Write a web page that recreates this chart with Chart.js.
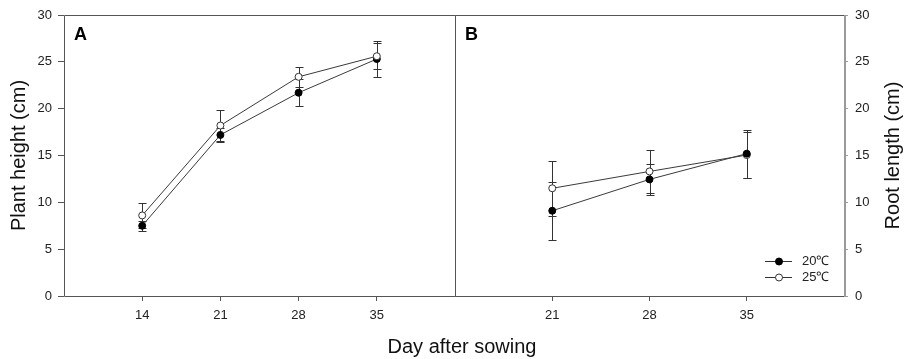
<!DOCTYPE html>
<html>
<head>
<meta charset="utf-8">
<script src="https://cdn.jsdelivr.net/npm/chart.js@4.4.0/dist/chart.umd.min.js"></script>
<style>
  body { margin: 0; background: #fff; }
  #wrap { position: relative; width: 905px; height: 359px; overflow: hidden; font-family: "Liberation Sans", Arial, sans-serif; }
  canvas { position: absolute; top: 0; }
  #chartA { left: 0; }
  #chartB { left: 450px; }
  #xtitle { position: absolute; left: 462px; top: 336px; transform: translateX(-50%); font-size: 20px; line-height: 20px; color: #111; white-space: nowrap; }
</style>
</head>
<body>
<div id="wrap">
  <canvas id="chartA" width="460" height="359"></canvas>
  <canvas id="chartB" width="455" height="359"></canvas>
  <div id="xtitle">Day after sowing</div>
</div>
<script>
// panel A - plant height
const daysA = [14, 21, 28, 35];
const heightAt20 = [7.5, 17.2, 21.7, 25.3];
const heightErr20 = [0.55, 0.75, 1.45, 1.9];
const heightAt25 = [8.6, 18.2, 23.4, 25.6];
const heightErr25 = [1.3, 1.7, 1.1, 1.4];

// panel B - root length
const daysB = [21, 28, 35];
const rootAt20 = [9.1, 12.45, 15.2];
const rootErr20 = [3.1, 1.65, 2.55];
const rootAt25 = [11.5, 13.3, 15.05];
const rootErr25 = [2.95, 2.3, 2.5];

const yTicks = [0, 5, 10, 15, 20, 25, 30];
const seriesNames = ['20℃', '25℃'];

const FONT = '"Liberation Sans", Arial, sans-serif';

function pts(xs, ys) {
  return xs.map((x, i) => ({ x: x, y: ys[i] }));
}

function series(name, xs, ys, errs, filled) {
  return {
    label: name,
    data: pts(xs, ys),
    errors: errs,
    borderColor: '#3a3a3a',
    borderWidth: 1,
    tension: 0,
    pointRadius: 3.5,
    pointBorderWidth: 1,
    pointBackgroundColor: filled ? '#000' : '#fff',
    pointBorderColor: filled ? '#000' : '#333'
  };
}

// error bars, drawn under the lines and markers
const errorBars = {
  id: 'errorBars',
  beforeDatasetsDraw(chart) {
    const ctx = chart.ctx;
    const ys = chart.scales.y;
    ctx.save();
    ctx.strokeStyle = '#333';
    ctx.lineWidth = 1;
    chart.data.datasets.forEach((ds, di) => {
      const meta = chart.getDatasetMeta(di);
      ds.data.forEach((p, i) => {
        const x = Math.round(meta.data[i].x) + 0.5;
        const top = Math.round(ys.getPixelForValue(p.y + ds.errors[i])) + 0.5;
        const bot = Math.round(ys.getPixelForValue(p.y - ds.errors[i])) + 0.5;
        ctx.beginPath();
        ctx.moveTo(x, top); ctx.lineTo(x, bot);
        ctx.moveTo(x - 4, top); ctx.lineTo(x + 4, top);
        ctx.moveTo(x - 4, bot); ctx.lineTo(x + 4, bot);
        ctx.stroke();
      });
    });
    ctx.restore();
  }
};

// box around the plot, panel letter, legend and right-hand title
const decor = {
  id: 'decor',
  afterDraw(chart, args, opts) {
    const ctx = chart.ctx;
    const a = chart.chartArea;
    const l = Math.round(a.left) + 0.5, r = Math.round(a.right) + 0.5;
    const t = Math.round(a.top) + 0.5, b = Math.round(a.bottom) + 0.5;
    ctx.save();
    ctx.strokeStyle = '#555';
    ctx.lineWidth = 1;
    ctx.beginPath();
    ctx.moveTo(l, b); ctx.lineTo(l, t); ctx.lineTo(r, t);
    if (!opts.rightAxis) ctx.lineTo(r, b);
    ctx.moveTo(l, b); ctx.lineTo(r, b);
    ctx.stroke();
    if (opts.rightAxis) {
      ctx.strokeStyle = '#9a9a9a';
      ctx.lineWidth = 2;
      ctx.beginPath();
      ctx.moveTo(Math.round(a.right) + 1, t - 0.5);
      ctx.lineTo(Math.round(a.right) + 1, b + 0.5);
      ctx.stroke();
    }

    ctx.fillStyle = '#000';
    ctx.font = 'bold 18px ' + FONT;
    ctx.textAlign = 'left';
    ctx.textBaseline = 'alphabetic';
    ctx.fillText(opts.letter, a.left + 10, a.top + 24.5);

    if (opts.legend) {
      ctx.font = '13px ' + FONT;
      ctx.textBaseline = 'middle';
      chart.data.datasets.forEach((ds, i) => {
        const y = a.bottom - 35 + i * 16 + 0.5;
        ctx.strokeStyle = '#333';
        ctx.lineWidth = 1;
        ctx.beginPath();
        ctx.moveTo(a.right - 79, y); ctx.lineTo(a.right - 52, y);
        ctx.stroke();
        ctx.beginPath();
        ctx.arc(a.right - 65, y, 3.5, 0, Math.PI * 2);
        ctx.fillStyle = ds.pointBackgroundColor;
        ctx.fill();
        ctx.strokeStyle = ds.pointBorderColor;
        ctx.stroke();
        ctx.fillStyle = '#222';
        ctx.fillText(ds.label, a.right - 42, y);
      });
    }

    if (opts.rightTitle) {
      ctx.translate(chart.width - 12, (a.top + a.bottom) / 2);
      ctx.rotate(-Math.PI / 2);
      ctx.font = '20px ' + FONT;
      ctx.fillStyle = '#111';
      ctx.textAlign = 'center';
      ctx.textBaseline = 'middle';
      ctx.fillText(opts.rightTitle, 0, 0);
    }
    ctx.restore();
  }
};

function xAxis(min, max, ticks) {
  return {
    type: 'linear',
    min: min,
    max: max,
    afterBuildTicks: s => { s.ticks = ticks.map(v => ({ value: v })); },
    afterFit: s => { s.height = 63; },
    border: { display: false },
    grid: { drawOnChartArea: false, drawTicks: true, tickLength: 5, color: '#555' },
    ticks: { color: '#222', padding: 7, font: { family: FONT, size: 13 } }
  };
}

function yAxis(side, width, title) {
  return {
    type: 'linear',
    position: side,
    min: 0,
    max: 30,
    afterBuildTicks: s => { s.ticks = yTicks.map(v => ({ value: v })); },
    afterFit: s => { s.width = width; },
    border: { display: false },
    grid: { drawOnChartArea: false, drawTicks: true, tickLength: side === 'left' ? 6 : 4, color: side === 'left' ? '#555' : '#9a9a9a' },
    ticks: { color: '#222', padding: side === 'left' ? 6 : 7, font: { family: FONT, size: 13 } },
    title: title ? { display: true, text: title, color: '#111', padding: { top: 7, bottom: 0 }, font: { family: FONT, size: 20 } } : { display: false }
  };
}

new Chart(document.getElementById('chartA'), {
  type: 'line',
  data: {
    datasets: [
      series(seriesNames[1], daysA, heightAt25, heightErr25, false),
      series(seriesNames[0], daysA, heightAt20, heightErr20, true)
    ]
  },
  options: {
    responsive: false,
    animation: false,
    layout: { padding: { top: 15, right: 5, left: 0, bottom: 0 } },
    scales: {
      x: xAxis(7, 42, daysA),
      y: yAxis('left', 64, 'Plant height (cm)')
    },
    plugins: {
      legend: { display: false },
      tooltip: { enabled: false },
      decor: { letter: 'A' }
    }
  },
  plugins: [errorBars, decor]
});

new Chart(document.getElementById('chartB'), {
  type: 'line',
  data: {
    datasets: [
      series(seriesNames[0], daysB, rootAt20, rootErr20, true),
      series(seriesNames[1], daysB, rootAt25, rootErr25, false)
    ]
  },
  options: {
    responsive: false,
    animation: false,
    layout: { padding: { top: 15, right: 0, left: 5, bottom: 0 } },
    scales: {
      x: xAxis(14, 42, daysB),
      y: yAxis('right', 61, null)
    },
    plugins: {
      legend: { display: false },
      tooltip: { enabled: false },
      decor: { letter: 'B', legend: true, rightAxis: true, rightTitle: 'Root length (cm)' }
    }
  },
  plugins: [errorBars, decor]
});
</script>
</body>
</html>
